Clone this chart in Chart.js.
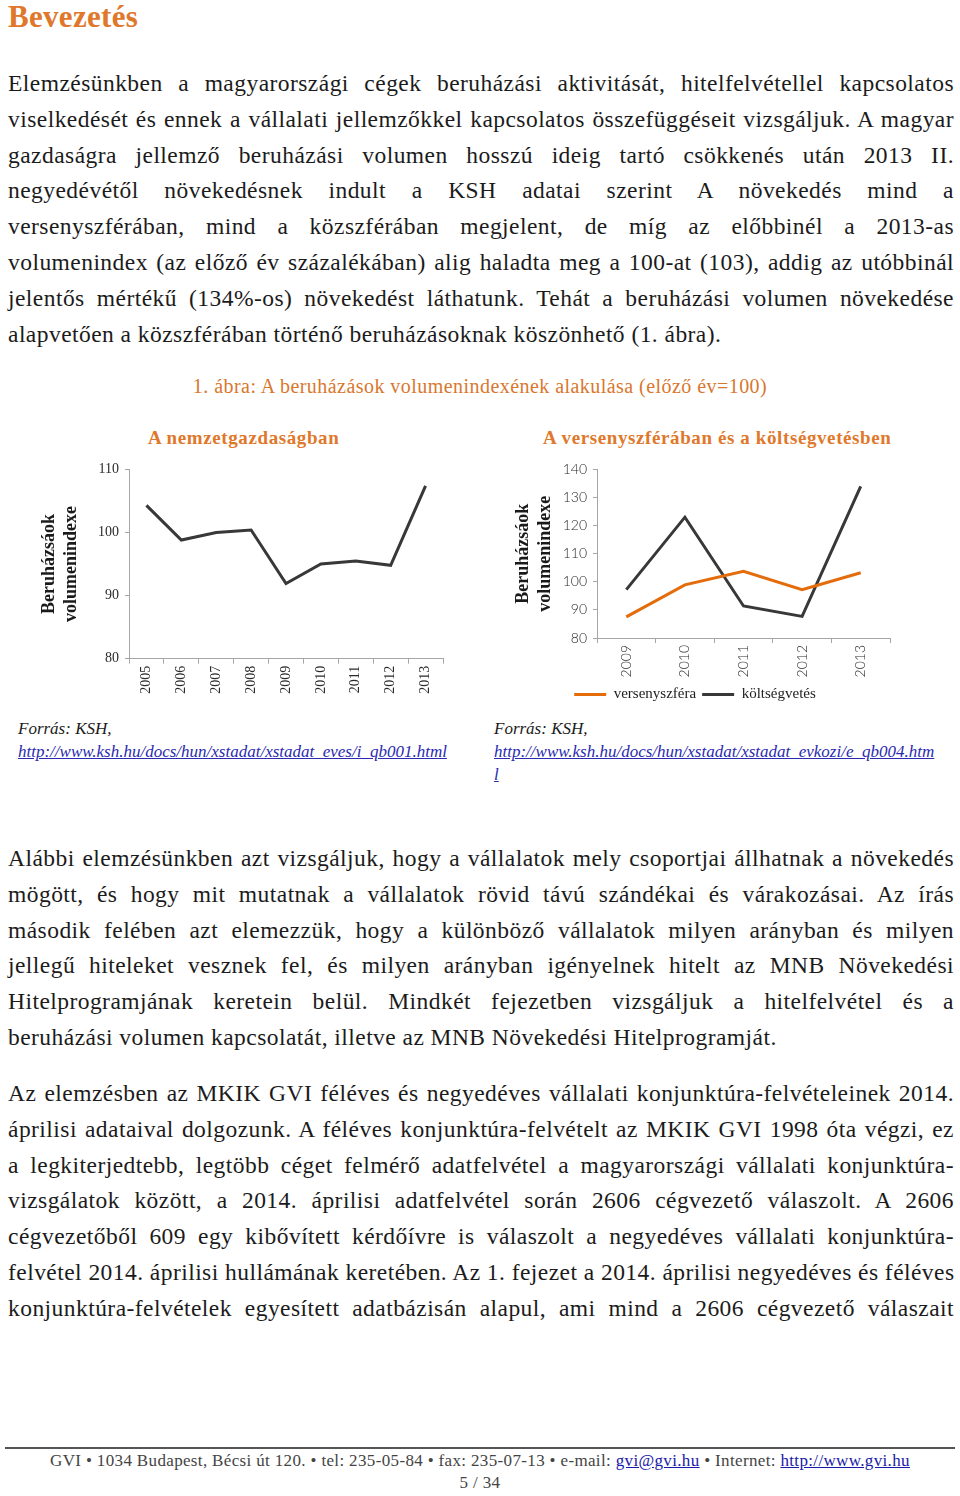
<!DOCTYPE html>
<html lang="hu">
<head>
<meta charset="utf-8">
<title>Bevezetés</title>
<script src="https://cdn.jsdelivr.net/npm/chart.js@4.4.1/dist/chart.umd.min.js"></script>
<style>
    body {
        margin: 0;
        width: 960px;
        height: 1496px;
        position: relative;
        background: #fff;
        font-family: "Liberation Serif", "DejaVu Serif", serif;
        color: #1b1b1b;
        overflow: hidden;
    }
    .abs { position: absolute; }
    h1 {
        position: absolute;
        left: 8px;
        top: 0;
        margin: 0;
        font-size: 31px;
        line-height: 34px;
        letter-spacing: 0.3px;
        font-weight: bold;
        color: #e0782c;
    }
    .para {
        position: absolute;
        left: 8px;
        width: 946px;
        font-size: 23.5px;
        letter-spacing: 0.45px;
        line-height: 35.8px;
    }
    .para div { text-align: justify; text-align-last: justify; white-space: nowrap; }
    .para div.last { text-align-last: left; }
    .caption {
        left: 0; width: 960px; top: 375px;
        text-align: center;
        font-size: 20px;
        letter-spacing: 0.45px;
        color: #d9772e;
    }
    .ctitle { font-size: 19px; letter-spacing: 0.6px; font-weight: bold; color: #e0782c; top: 427px; }
    .src { font-size: 17px; font-style: italic; line-height: 23px; color: #1b1b1b; }
    .src a { color: #2a2ab0; text-decoration: underline; }
    .chartbox { position: absolute; }
    .footline { left: 5px; width: 950px; top: 1447px; height: 2px; background: #555; }
    .foot { left: 0; width: 960px; text-align: center; font-size: 17px; letter-spacing: 0.35px; color: #444; }
    .foot a { color: #1a1aa8; }
</style>
</head>
<body>

<h1>Bevezetés</h1>

<div class="para" style="top:66px">
    <div>Elemzésünkben a magyarországi cégek beruházási aktivitását, hitelfelvétellel kapcsolatos</div>
    <div>viselkedését és ennek a vállalati jellemzőkkel kapcsolatos összefüggéseit vizsgáljuk. A magyar</div>
    <div>gazdaságra jellemző beruházási volumen hosszú ideig tartó csökkenés után 2013 II.</div>
    <div>negyedévétől növekedésnek indult a KSH adatai szerint A növekedés mind a</div>
    <div>versenyszférában, mind a közszférában megjelent, de míg az előbbinél a 2013-as</div>
    <div>volumenindex (az előző év százalékában) alig haladta meg a 100-at (103), addig az utóbbinál</div>
    <div>jelentős mértékű (134%-os) növekedést láthatunk. Tehát a beruházási volumen növekedése</div>
    <div class="last">alapvetően a közszférában történő beruházásoknak köszönhető (1. ábra).</div>
</div>

<div class="abs caption">1. ábra: A beruházások volumenindexének alakulása (előző év=100)</div>

<div class="abs ctitle" style="left:148px">A nemzetgazdaságban</div>
<div class="abs ctitle" style="left:543px">A versenyszférában és a költségvetésben</div>

<div class="chartbox" style="left:30px; top:455px; width:420px; height:245px">
    <canvas id="chartNemzet"></canvas>
</div>
<div class="chartbox" style="left:500px; top:455px; width:400px; height:257px">
    <canvas id="chartSzfera"></canvas>
</div>

<div class="abs src" style="left:18px; top:717px">
    Forrás: KSH,<br>
    <a href="#">http://www.ksh.hu/docs/hun/xstadat/xstadat_eves/i_qb001.html</a>
</div>
<div class="abs src" style="left:494px; top:717px">
    Forrás: KSH,<br>
    <a href="#">http://www.ksh.hu/docs/hun/xstadat/xstadat_evkozi/e_qb004.htm<br>l</a>
</div>

<div class="para" style="top:841px">
    <div>Alábbi elemzésünkben azt vizsgáljuk, hogy a vállalatok mely csoportjai állhatnak a növekedés</div>
    <div>mögött, és hogy mit mutatnak a vállalatok rövid távú szándékai és várakozásai. Az írás</div>
    <div>második felében azt elemezzük, hogy a különböző vállalatok milyen arányban és milyen</div>
    <div>jellegű hiteleket vesznek fel, és milyen arányban igényelnek hitelt az MNB Növekedési</div>
    <div>Hitelprogramjának keretein belül. Mindkét fejezetben vizsgáljuk a hitelfelvétel és a</div>
    <div class="last">beruházási volumen kapcsolatát, illetve az MNB Növekedési Hitelprogramját.</div>
</div>

<div class="para" style="top:1076px">
    <div>Az elemzésben az MKIK GVI féléves és negyedéves vállalati konjunktúra-felvételeinek 2014.</div>
    <div>áprilisi adataival dolgozunk. A féléves konjunktúra-felvételt az MKIK GVI 1998 óta végzi, ez</div>
    <div>a legkiterjedtebb, legtöbb céget felmérő adatfelvétel a magyarországi vállalati konjunktúra-</div>
    <div>vizsgálatok között, a 2014. áprilisi adatfelvétel során 2606 cégvezető válaszolt. A 2606</div>
    <div>cégvezetőből 609 egy kibővített kérdőívre is válaszolt a negyedéves vállalati konjunktúra-</div>
    <div>felvétel 2014. áprilisi hullámának keretében. Az 1. fejezet a 2014. áprilisi negyedéves és féléves</div>
    <div>konjunktúra-felvételek egyesített adatbázisán alapul, ami mind a 2606 cégvezető válaszait</div>
</div>

<div class="abs footline"></div>
<div class="abs foot" style="top:1451px">GVI • 1034 Budapest, Bécsi út 120. • tel: 235-05-84 • fax: 235-07-13 • e-mail: <a href="#">gvi@gvi.hu</a> • Internet: <a href="#">http://www.gvi.hu</a></div>
<div class="abs foot" style="top:1473px">5 / 34</div>

<script>
// Beruházások volumenindexe, nemzetgazdaság (előző év = 100)
const yearsNemzet = ['2005', '2006', '2007', '2008', '2009', '2010', '2011', '2012', '2013'];
const nemzetgazdasag = [104.3, 98.8, 100.0, 100.4, 91.9, 95.0, 95.5, 94.8, 107.4];
const ticksNemzet = [80, 90, 100, 110];

// Versenyszféra és költségvetés
const yearsSzfera = ['2009', '2010', '2011', '2012', '2013'];
const versenyszfera = [87.5, 98.9, 103.7, 97.2, 103.2];
const koltsegvetes = [97.2, 123.0, 91.4, 87.7, 134.0];
const ticksSzfera = [80, 90, 100, 110, 120, 130, 140];

const orange = '#e46c0a';
const dark = '#383838';
const axisGray = '#a6a6a6';
const yTitle = ['Beruházsáok', 'volumenindexe'];

document.addEventListener('DOMContentLoaded', function() {
    Chart.defaults.animation = false;
    Chart.defaults.color = '#222';

    function yScale(ticks, tickFont, titlePad, width) {
        return {
            min: ticks[0],
            max: ticks[ticks.length - 1],
            afterBuildTicks: function(scale) {
                scale.ticks = ticks.map(function(v) { return { value: v }; });
            },
            afterFit: function(scale) { scale.width = width; },
            border: { color: axisGray, width: 1 },
            grid: { drawOnChartArea: false, drawTicks: true, tickLength: 4, color: axisGray },
            ticks: { font: tickFont, color: '#2a2a2a', padding: 6 },
            title: {
                display: true,
                text: yTitle,
                color: '#1a1a1a',
                font: { family: 'Liberation Serif', size: 18, weight: 'bold', lineHeight: 1.22 },
                padding: { top: titlePad, bottom: 0 }
            }
        };
    }

    function xScale(tickFont, height) {
        return {
            offset: true,
            afterFit: function(scale) { scale.height = height; },
            border: { color: axisGray, width: 1 },
            grid: { offset: true, drawOnChartArea: false, drawTicks: true, tickLength: 5, color: axisGray },
            ticks: { font: tickFont, color: '#2a2a2a', minRotation: 90, maxRotation: 90, padding: 2 }
        };
    }

    // Bal oldali ábra: nemzetgazdaság
    new Chart(document.getElementById('chartNemzet'), {
        type: 'line',
        data: {
            labels: yearsNemzet,
            datasets: [{
                label: 'nemzetgazdaság',
                data: nemzetgazdasag,
                borderColor: dark,
                backgroundColor: dark,
                borderWidth: 3,
                pointRadius: 0,
                tension: 0
            }]
        },
        options: {
            responsive: true,
            maintainAspectRatio: false,
            layout: { padding: { top: 10.7, right: 7, left: 0, bottom: 0 } },
            plugins: { legend: { display: false }, tooltip: { enabled: false } },
            scales: {
                x: xScale({ family: 'Liberation Serif', size: 14 }, 41.3),
                y: yScale(ticksNemzet, { family: 'Liberation Serif', size: 14 }, 8, 99)
            }
        }
    });

    // Jobb oldali ábra: versenyszféra és költségvetés
    new Chart(document.getElementById('chartSzfera'), {
        type: 'line',
        data: {
            labels: yearsSzfera,
            datasets: [
                {
                    label: 'versenyszféra',
                    data: versenyszfera,
                    borderColor: orange,
                    backgroundColor: orange,
                    borderWidth: 3,
                    pointRadius: 0,
                    tension: 0
                },
                {
                    label: 'költségvetés',
                    data: koltsegvetes,
                    borderColor: dark,
                    backgroundColor: dark,
                    borderWidth: 3,
                    pointRadius: 0,
                    tension: 0
                }
            ]
        },
        options: {
            responsive: true,
            maintainAspectRatio: false,
            layout: { padding: { top: 10, right: 10, left: 0, bottom: 0 } },
            plugins: {
                tooltip: { enabled: false },
                legend: {
                    position: 'bottom',
                    labels: {
                        boxWidth: 32,
                        boxHeight: 3,
                        padding: 6,
                        color: '#222',
                        font: { family: 'Liberation Serif', size: 15 },
                        generateLabels: function(chart) {
                            return Chart.defaults.plugins.legend.labels.generateLabels(chart).map(function(l) {
                                l.fillStyle = l.strokeStyle;
                                l.lineWidth = 0;
                                return l;
                            });
                        }
                    }
                }
            },
            scales: {
                x: xScale({ family: 'Lato', size: 14, weight: 300 }, 43),
                y: yScale(ticksSzfera, { family: 'Lato', size: 14, weight: 300 }, 12, 97)
            }
        }
    });
});
</script>
</body>
</html>
